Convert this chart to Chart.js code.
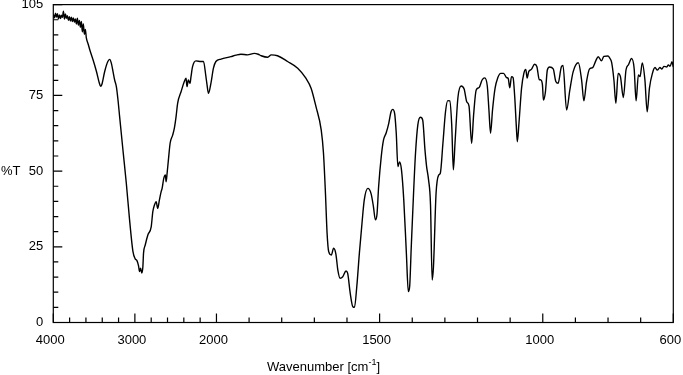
<!DOCTYPE html>
<html><head><meta charset="utf-8">
<script src="https://cdn.jsdelivr.net/npm/chart.js@4/dist/chart.umd.min.js"></script>
<style>html,body{margin:0;padding:0;background:#fff;}#wrap{width:683px;height:375px;}</style>
</head><body><div id="wrap"><canvas id="c" width="683" height="375"></canvas></div>
<script>
// ---- data (wavenumber in cm-1, transmittance in %T) ----
const wavenumbers = [
4000,3985,3973,3961,3949,3937,3924,3912,3900,3888,3876,3863,3851,3839,3827,3815,3802,3790,3778,3766,
3754,3741,3729,3717,3705,3693,3680,3668,3656,3644,3632,3619,3607,3595,3573,3552,3512,3471,3435,3420,
3405,3370,3333,3309,3288,3268,3248,3227,3207,3187,3146,3105,3065,3024,2996,2976,2955,2943,2930,2915,
2902,2894,2873,2841,2800,2780,2760,2739,2720,2699,2678,2666,2646,2626,2617,2605,2589,2568,2537,2516,
2495,2476,2434,2394,2373,2361,2345,2324,2312,2293,2251,2190,2159,2129,2117,2098,2068,2037,2007,1986,
1956,1940,1925,1905,1884,1872,1863,1843,1832,1813,1782,1751,1726,1710,1695,1679,1672,1666,1661,1656,
1648,1641,1634,1628,1621,1613,1603,1598,1590,1582,1577,1570,1562,1554,1547,1536,1526,1519,1513,1508,
1503,1495,1488,1480,1472,1465,1460,1454,1449,1444,1439,1433,1426,1418,1412,1408,1403,1396,1390,1383,
1375,1368,1361,1356,1350,1344,1339,1335,1327,1319,1314,1306,1298,1291,1285,1279,1274,1269,1260,1250,
1241,1233,1226,1218,1212,1204,1195,1186,1178,1170,1165,1160,1154,1146,1138,1129,1120,1111,1106,1101,
1096,1091,1086,1081,1078,1073,1065,1058,1052,1048,1043,1035,1025,1018,1011,1006,1001,998,992,986,
979,968,960,953,943,938,927,917,907,891,881,874,866,857,847,837,830,820,813,800,
794,789,782,776,769,762,753,745,737,728,720,714,707,702,695,687,680,673,664,656,
649,641,635,629,620,615,610,604,600
];
const transmittance = [
101.8,100.6,102.2,100.9,102.0,100.3,101.6,100.4,101.5,100.8,102.8,100.2,101.9,100.5,101.3,99.8,101.0,99.6,100.8,99.4,
100.6,99.2,100.3,98.6,100.5,98.2,99.8,97.5,99.4,96.0,98.6,95.2,96.8,94.0,92.0,90.0,86.7,82.9,79.0,78.0,
78.6,82.9,86.1,86.9,85.6,82.9,80.1,77.9,73.5,68.0,56.9,46.0,33.9,23.5,21.0,20.5,18.7,16.8,17.9,16.3,
18.4,22.9,25.6,28.9,31.6,36.6,38.8,39.9,37.7,40.5,43.2,44.3,47.6,48.7,46.5,49.3,53.7,59.2,61.9,64.2,
68.0,72.4,76.2,79.6,80.7,77.9,80.1,79.0,81.2,84.5,86.4,86.2,86.2,81.2,78.8,75.7,79.0,84.0,86.2,87.0,
87.8,88.3,88.6,88.4,88.9,88.6,88.1,87.6,88.4,88.1,86.2,84.0,80.7,77.4,71.3,63.6,55.9,42.7,29.5,23.4,
22.3,24.5,22.6,17.3,14.6,15.1,17.0,16.3,9.6,5.2,5.0,11.8,22.9,32.8,40.5,44.3,42.5,38.3,33.9,35.8,
44.9,54.8,60.3,62.6,65.8,69.6,70.4,69.1,62.5,51.5,53.0,50.4,40.5,22.9,10.2,11.8,25.0,42.7,55.9,65.2,
67.8,66.9,57.0,51.5,47.1,38.8,14.0,18.4,42.7,48.7,49.3,59.2,69.7,73.3,73.2,65.2,50.4,59.2,74.3,78.1,
77.1,72.9,71.5,59.2,68.5,76.8,77.6,80.1,80.8,78.1,70.2,62.5,70.2,77.5,80.8,82.3,82.3,80.9,80.6,77.5,
81.2,80.9,74.6,64.7,59.7,65.8,77.4,82.3,83.6,80.7,82.9,83.6,85.3,84.5,80.3,80.1,78.5,73.5,76.1,83.4,
84.4,83.8,79.6,79.0,84.5,84.9,70.2,76.8,82.8,85.8,80.1,73.2,79.5,83.7,84.2,86.6,87.8,86.4,87.9,88.0,
87.2,85.9,80.1,72.4,82.3,81.2,74.3,83.4,85.2,87.2,83.9,73.2,81.8,81.2,85.7,80.1,69.6,77.5,82.3,84.2,
83.4,84.2,83.7,84.6,84.4,85.1,84.6,86.1,84.4
];
const majorTicksX = [4000,3000,2000,1500,1000,600];
const minorTicksX = [3800,3600,3400,3200,2800,2600,2400,2200,1900,1800,1700,1600,1400,1300,1200,1100,900,800,700];
const ticksY = [0,5,10,15,20,25,30,35,40,45,50,55,60,65,70,75,80,85,90,95,100,105];
const labelsY = [0,25,50,75,105];

// axis has a 4x scale expansion below 2000 cm-1
const toU = wn => wn >= 2000 ? (4000 - wn) / 4 : 500 + (2000 - wn);
const fromU = u => u <= 500 ? 4000 - 4 * u : 2000 - (u - 500);

const FONT = '"Liberation Sans", Arial, sans-serif';
const points = wavenumbers.map((w, i) => ({ x: toU(w), y: transmittance[i] }));

const decor = {
  id: 'decor',
  afterDraw(chart) {
    const { ctx, chartArea: a, scales: { x, y } } = chart;
    ctx.save();
    ctx.strokeStyle = '#000';
    ctx.lineWidth = 1.2;
    ctx.beginPath();
    majorTicksX.concat(minorTicksX).forEach(w => {
      const px = x.getPixelForValue(toU(w));
      const L = majorTicksX.includes(w) ? 9 : 5;
      ctx.moveTo(px, a.bottom); ctx.lineTo(px, a.bottom - L);
    });
    ticksY.forEach(v => {
      const py = y.getPixelForValue(v);
      const L = labelsY.includes(v) ? 9 : 5;
      ctx.moveTo(a.left, py); ctx.lineTo(a.left + L, py);
    });
    ctx.stroke();
    ctx.strokeRect(a.left, a.top, a.right - a.left, a.bottom - a.top);
    ctx.fillStyle = '#000';
    ctx.font = '13px ' + FONT;
    ctx.textBaseline = 'middle';
    ctx.textAlign = 'left';
    ctx.fillText('%T', 1, y.getPixelForValue(50));
    // x axis title with superscript
    const t1 = 'Wavenumber [cm', t2 = '-1', t3 = ']';
    ctx.font = '13px ' + FONT;
    const w1 = ctx.measureText(t1).width, w3 = ctx.measureText(t3).width;
    ctx.font = '9px ' + FONT;
    const w2 = ctx.measureText(t2).width;
    const total = w1 + w2 + w3;
    let sx = 323.5 - total / 2;
    const ty = 367;
    ctx.font = '13px ' + FONT;
    ctx.fillText(t1, sx, ty);
    ctx.font = '9px ' + FONT;
    ctx.fillText(t2, sx + w1, ty - 4);
    ctx.font = '13px ' + FONT;
    ctx.fillText(t3, sx + w1 + w2, ty);
    ctx.restore();
  }
};

new Chart(document.getElementById('c'), {
  type: 'line',
  data: { datasets: [{ data: points, borderColor: '#000', borderWidth: 1.4, pointRadius: 0,
    cubicInterpolationMode: 'monotone', fill: false }] },
  options: {
    responsive: false, devicePixelRatio: 1, animation: false,
    layout: { padding: { top: 4.6, right: 9.7, left: 0, bottom: 0 } },
    plugins: { legend: { display: false }, tooltip: { enabled: false } },
    scales: {
      x: {
        type: 'linear', min: 0, max: 1900,
        grid: { display: false, drawTicks: false }, border: { display: false },
        afterBuildTicks: s => { s.ticks = majorTicksX.concat(minorTicksX).sort((a, b) => b - a).map(w => ({ value: toU(w) })); },
        ticks: { autoSkip: false, maxRotation: 0, minRotation: 0, padding: 10, labelOffset: -3, color: '#000',
          font: { family: FONT, size: 13 },
          callback: v => { const w = Math.round(fromU(v)); return majorTicksX.includes(w) ? String(w) : ''; } },
        afterFit: s => { s.height = 52.5; s.paddingLeft = 0; s.paddingRight = 0; }
      },
      y: {
        min: 0, max: 105,
        grid: { display: false, drawTicks: false }, border: { display: false },
        afterBuildTicks: s => { s.ticks = ticksY.map(v => ({ value: v })); },
        ticks: { autoSkip: false, padding: 10, color: '#000', font: { family: FONT, size: 13 },
          callback: v => labelsY.includes(v) ? String(v) : '' },
        afterFit: s => { s.width = 53.3; s.paddingTop = 0; s.paddingBottom = 0; }
      }
    }
  },
  plugins: [decor]
});
</script></body></html>
